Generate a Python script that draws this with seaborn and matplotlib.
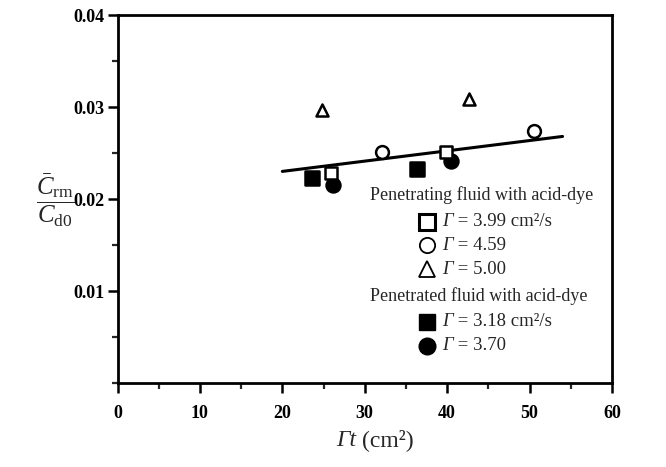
import matplotlib
matplotlib.use("Agg")
import matplotlib.pyplot as plt
import seaborn as sns
import pandas as pd
from matplotlib.ticker import MultipleLocator

# ---- data ----
open_sq_x = [25.9, 39.8]
open_sq_y = [0.0228, 0.0251]
open_ci_x = [32.1, 50.5]
open_ci_y = [0.0251, 0.0274]
open_tr_x = [24.8, 42.6]
open_tr_y = [0.0297, 0.0309]
fill_sq_x = [23.6, 36.3]
fill_sq_y = [0.0223, 0.0233]
fill_ci_x = [26.1, 40.5]
fill_ci_y = [0.0215, 0.0241]
fit_x = [20.0, 54.0]
fit_y = [0.0230, 0.0268]

x_ticks = [0, 10, 20, 30, 40, 50, 60]
y_ticks = [0.01, 0.02, 0.03, 0.04]
y_tick_labels = ["0.01", "0.02", "0.03", "0.04"]

head1 = "Penetrating fluid with acid-dye"
head2 = "Penetrated fluid with acid-dye"
labels1 = [" = 3.99 cm²/s", " = 4.59", " = 5.00"]
labels2 = [" = 3.18 cm²/s", " = 3.70"]

sns.set_theme(style="white")
plt.rcParams["font.family"] = ["Liberation Serif", "DejaVu Serif"]
plt.rcParams["mathtext.fontset"] = "custom"
plt.rcParams["mathtext.rm"] = "Liberation Serif"
plt.rcParams["mathtext.it"] = "Liberation Serif:italic"
plt.rcParams["mathtext.bf"] = "Liberation Serif:bold"

fig = plt.figure(figsize=(6.66, 4.67), dpi=100)
ax = fig.add_axes([117.5 / 666, 1 - 383 / 467, (612 - 117.5) / 666, (383 - 15) / 467])

# fit line
sns.lineplot(x=fit_x, y=fit_y, ax=ax, color="black", lw=2.2, zorder=2)

def pts(xs, ys, marker, filled, size):
    df = pd.DataFrame({"x": xs, "y": ys})
    sns.scatterplot(data=df, x="x", y="y", ax=ax, marker=marker, s=size,
                    facecolor="black" if filled else "white",
                    edgecolor="black", linewidth=1.8, zorder=3)

pts(fill_sq_x, fill_sq_y, "s", True, 90)
pts(fill_ci_x, fill_ci_y, "o", True, 100)
pts(open_sq_x, open_sq_y, "s", False, 85)
pts(open_ci_x, open_ci_y, "o", False, 85)
pts(open_tr_x, open_tr_y, "^", False, 75)

ax.set_xlabel("")
ax.set_xlim(0, 60)
ax.set_ylim(0, 0.04)
ax.set_xticks(x_ticks)
ax.set_xticklabels([str(v) for v in x_ticks])
ax.set_yticks(y_ticks)
ax.set_yticklabels(y_tick_labels)
ax.xaxis.set_minor_locator(MultipleLocator(5))
ax.yaxis.set_minor_locator(MultipleLocator(0.005))
ax.tick_params(axis="both", which="major", direction="out", length=7, width=1.8,
               labelsize=13, colors="black", bottom=True, left=True, top=False, right=False)
ax.tick_params(axis="both", which="minor", direction="out", length=4, width=1.6,
               bottom=True, left=True, top=False, right=False)
for lab in ax.get_xticklabels() + ax.get_yticklabels():
    lab.set_fontweight("bold")
ax.tick_params(axis="x", pad=9)
ax.tick_params(axis="y", pad=2.5)
for sp in ax.spines.values():
    sp.set_color("black")
    sp.set_linewidth(2.0)

# x label: italic Gamma t followed by upright unit
fig.text(356 / 666, 1 - 440 / 467, "Γt", fontsize=17, fontstyle="italic",
         ha="right", va="center")
fig.text(362 / 666, 1 - 440 / 467, "(cm²)", fontsize=17, ha="left", va="center")

# y label (fraction)
ax.set_ylabel(r"$\dfrac{\bar{C}_{\mathrm{rm}}}{C_{\mathrm{d0}}}$", fontsize=18,
              rotation=0, va="center", ha="center")
ax.yaxis.set_label_coords((55 - 117.5) / (612 - 117.5), (383 - 200) / (383 - 15))

# legend-like annotation block (axes coordinates)
def ax_xy(px, py):
    return ((px - 117.5) / (612 - 117.5), (383 - py) / (383 - 15))

fs_head = 13.0
fs_lab = 13.5
x0, _ = ax_xy(370, 0)
xm, _ = ax_xy(427, 0)
xt, _ = ax_xy(442, 0)

def gamma_label(yy, rest):
    g = ax.text(xt, yy, "Γ", transform=ax.transAxes, fontsize=fs_lab,
                fontstyle="italic", va="center", ha="left")
    ax.annotate(rest, xy=(1, 0), xycoords=g, fontsize=fs_lab, ha="left", va="bottom",
                annotation_clip=False)

_, yh1 = ax_xy(0, 195)
ax.text(x0, yh1, head1, transform=ax.transAxes, fontsize=fs_head, va="center", ha="left")
for lab, py, mk in zip(labels1, [222, 245, 269], ["s", "o", "^"]):
    _, yy = ax_xy(0, py)
    ax.plot([xm], [yy], marker=mk, transform=ax.transAxes,
            ms={"s": 12, "o": 11, "^": 12}[mk],
            mfc="white", mec="black", mew={"s": 2.2, "o": 1.3, "^": 1.3}[mk],
            ls="none", clip_on=False)
    gamma_label(yy, lab)
_, yh2 = ax_xy(0, 296)
ax.text(x0, yh2, head2, transform=ax.transAxes, fontsize=fs_head, va="center", ha="left")
for lab, py, mk in zip(labels2, [322, 346], ["s", "o"]):
    _, yy = ax_xy(0, py)
    ax.plot([xm], [yy], marker=mk, transform=ax.transAxes, ms=12,
            mfc="black", mec="black", mew=1.0, ls="none", clip_on=False)
    gamma_label(yy, lab)

fig.savefig("out.png", dpi=100, facecolor="white")
